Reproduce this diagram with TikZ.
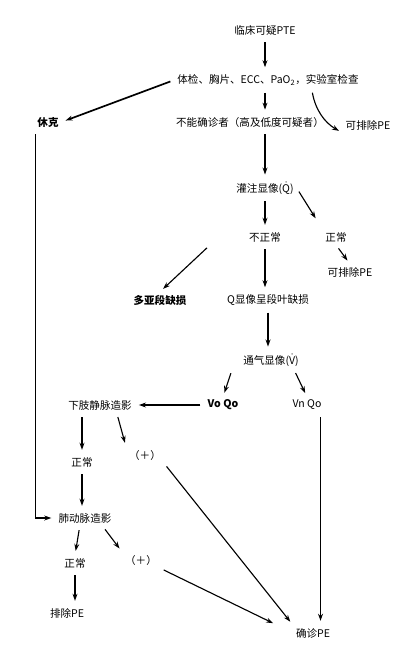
\documentclass[tikz,border=0pt]{standalone}
\usepackage{fontspec}
\setmainfont{Noto Sans CJK SC}
\usepackage{tikz}
\usetikzlibrary{arrows.meta, positioning}
\tikzset{
    step_txt/.style={inner sep=2pt, font=\fontsize{7.5}{9}\selectfont},
    bold_txt/.style={step_txt, font=\fontsize{7.5}{9}\selectfont\bfseries},
    arrow/.style={line width=0.8pt, -{Stealth[length=5pt, width=3.5pt]}, shorten >=3pt, shorten <=3pt}
}
\begin{document}
\begin{tikzpicture}[x=0.025cm, y=-0.025cm]
    \useasboundingbox (0,0) rectangle (410,656);
    % Screening
    \node (suspect) [step_txt] at (265,30) {临床可疑PTE};
    \node (exam) [step_txt] at (268,80) {体检、胸片、ECC、PaO\textsubscript{2}，实验室检查};
    \node (shock) [bold_txt] at (48,122) {休克};
    \node (unsure) [step_txt] at (250,122) {不能确诊者（高及低度可疑者）};
    \node (excl_a) [step_txt] at (368,125) {可排除PE};
    % Perfusion scan
    \node (perf) [step_txt] at (265,188) {灌注显像(\(\dot{\mathrm{Q}}\))};
    \node (abnormal) [step_txt] at (265,237) {不正常};
    \node (normal_a) [step_txt] at (336,237) {正常};
    \node (excl_b) [step_txt] at (350,272) {可排除PE};
    \node (multi) [bold_txt] at (160,300) {多亚段缺损};
    \node (lobar) [step_txt] at (268,300) {Q显像呈段叶缺损};
    % Ventilation scan
    \node (vent) [step_txt] at (271,360) {通气显像(\(\dot{\mathrm{V}}\))};
    \node (voqo) [bold_txt] at (223,405) {Vo Qo};
    \node (vnqo) [step_txt] at (307,405) {Vn Qo};
    % Venography / angiography
    \node (leg) [step_txt] at (100,405) {下肢静脉造影};
    \node (normal_b) [step_txt] at (82,462) {正常};
    \node (plus_a) [step_txt] at (145,455) {（＋）};
    \node (pa) [step_txt] at (85,518) {肺动脉造影};
    \node (normal_c) [step_txt] at (75,563) {正常};
    \node (plus_b) [step_txt] at (141,560) {（＋）};
    \node (exclude) [step_txt] at (67,613) {排除PE};
    \node (confirm) [step_txt] at (313,633) {确诊PE};
    % Arrows
    \draw [arrow] (suspect) -- (suspect |- exam.north);
    \draw [arrow, line width=1.2pt] (exam.west) -- (shock.east);
    \draw [arrow] (265,0 |- exam.south) -- (265,0 |- unsure.north);
    \draw [arrow] ([xshift=-1.25cm]exam.south east) to[bend right=25] (excl_a.south west);
    \draw [arrow] (265,0 |- unsure.south) -- (perf);
    \draw [arrow] (perf) -- (abnormal);
    \draw [arrow, shorten >=9pt] (perf.east) -- (normal_a.north west);
    \draw [arrow] (normal_a.south) -- (excl_b.north);
    \draw [arrow] ([xshift=-0.9cm]abnormal.south west) -- (multi.north);
    \draw [arrow] (abnormal) -- (abnormal |- lobar.north);
    \draw [arrow] (lobar) -- (lobar |- vent.north);
    \draw [arrow] ([xshift=-0.2cm]vent.south west) -- (voqo.north);
    \draw [arrow] ([xshift=-0.2cm]vent.south east) -- (vnqo.north);
    \draw [arrow] (voqo.west) -- (leg.east);
    \draw [arrow] (leg.south -| normal_b) -- (normal_b.north);
    \draw [arrow] ([xshift=-0.45cm]leg.south east) -- (plus_a.north west);
    \draw [arrow] (normal_b.south) -- (normal_b.south |- pa.north);
    \draw [arrow] ([xshift=0.7pt]shock.south west) |- (pa.west);
    \draw [arrow] (pa.south west -| normal_c) ++(0.12cm,0) -- (normal_c.north);
    \draw [arrow] ([xshift=-0.3cm]pa.south east) -- (plus_b.north west);
    \draw [arrow] (normal_c.south) -- (normal_c.south |- exclude.north);
    \draw [arrow] (plus_a.south east) -- (confirm.north west);
    \draw [arrow] (plus_b.south east) -- ([xshift=-0.4cm]confirm.north west);
    \draw [arrow] ([xshift=-0.1cm]vnqo.south east) -- ([xshift=-0.1cm]vnqo.south east |- confirm.north);
\end{tikzpicture}
\end{document}
